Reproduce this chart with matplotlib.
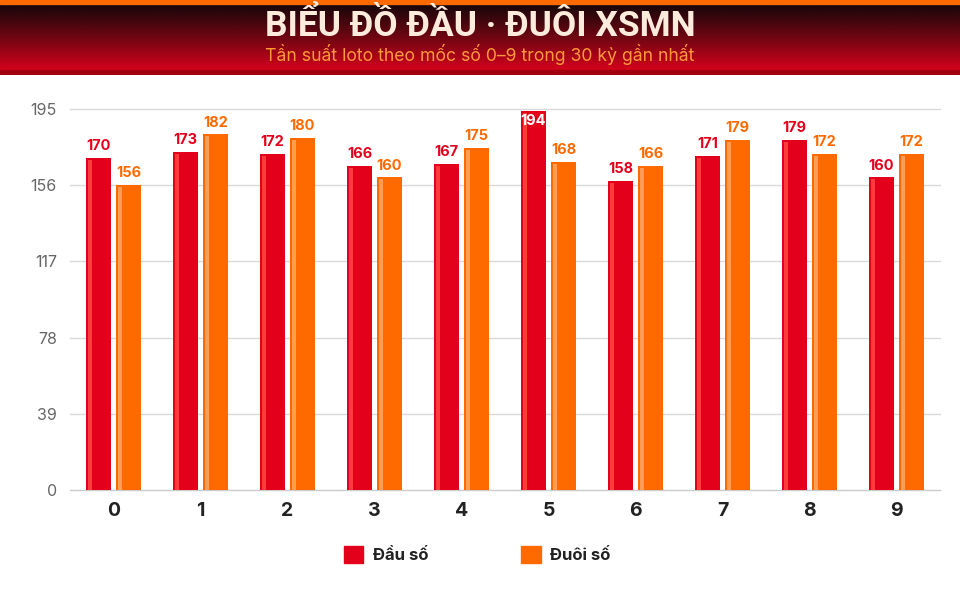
import numpy as np
import matplotlib.pyplot as plt
from matplotlib.colors import LinearSegmentedColormap

# data
digits = ["0", "1", "2", "3", "4", "5", "6", "7", "8", "9"]
dau_so = [170, 173, 172, 166, 167, 194, 158, 171, 179, 160]
duoi_so = [156, 182, 180, 160, 175, 168, 166, 179, 172, 172]
y_ticks = [0, 39, 78, 117, 156, 195]

RED = "#e3001b"
RED_HI = "#ff3b3b"
ORANGE = "#ff6a00"
ORANGE_HI = "#ff9d55"

W, H = 960, 600
fig = plt.figure(figsize=(W / 100, H / 100), dpi=100)
fig.patch.set_facecolor("white")

# ---- header band ----
hdr = fig.add_axes([0, 1 - 75 / H, 1, 75 / H])
hdr.set_xlim(0, W)
hdr.set_ylim(75, 0)
hdr.axis("off")
grad = LinearSegmentedColormap.from_list("hdr", ["#16060a", "#6e0612", "#d3021c"])
hdr.imshow(np.linspace(0, 1, 100).reshape(-1, 1), cmap=grad, aspect="auto",
           extent=[0, W, 70, 4], zorder=0)
hdr.axhspan(0, 4, color="#ff6a00", zorder=1)
hdr.axhspan(70, 75, color="#a3000f", zorder=1)
hdr.text(W / 2, 36, "BIỂU ĐỒ ĐẦU · ĐUÔI XSMN", ha="center", va="baseline",
         fontsize=25.5, fontweight="bold", color="#fdebdc", family="Roboto",
         zorder=2)
hdr.text(W / 2, 61, "Tần suất loto theo mốc số 0–9 trong 30 kỳ gần nhất",
         ha="center", va="baseline", fontsize=12.7, color="#ff9a3c", family="Inter",
         zorder=2)

# ---- main chart ----
ax = fig.add_axes([70 / W, 110 / H, 870 / W, 381 / H])
x = np.arange(len(digits))
bw = 0.29
off = 0.172
hi_w = 0.045

ax.bar(x - off, dau_so, width=bw, color=RED, zorder=3)
ax.bar(x + off, duoi_so, width=bw, color=ORANGE, zorder=3)
# light stripe on the left side of each bar
ax.bar(x - off - bw / 2 + 0.025, np.array(dau_so) - 1, width=hi_w, align="edge",
       color=RED_HI, zorder=4)
ax.bar(x + off - bw / 2 + 0.025, np.array(duoi_so) - 1, width=hi_w, align="edge",
       color=ORANGE_HI, zorder=4)

ymax = max(y_ticks)
for i, (a, b) in enumerate(zip(dau_so, duoi_so)):
    if a >= ymax - 3:
        ax.text(i - off, a - 1.5, str(a), ha="center", va="top", fontsize=10.5,
                fontweight="bold", color="white", family="Inter", zorder=5)
    else:
        ax.text(i - off, a + 2.5, str(a), ha="center", va="bottom", fontsize=10.5,
                fontweight="bold", color=RED, family="Inter", zorder=5)
    ax.text(i + off, b + 2.5, str(b), ha="center", va="bottom", fontsize=10.5,
            fontweight="bold", color=ORANGE, family="Inter", zorder=5)

ax.set_xlim(-0.5, len(digits) - 0.5)
ax.set_ylim(0, ymax)
ax.set_yticks(y_ticks)
ax.set_yticklabels([str(v) for v in y_ticks], fontsize=11.5, color="#666666",
                   family="Inter")
ax.set_xticks(x)
ax.set_xticklabels(digits, fontsize=14, fontweight="bold", color="#222222",
                   family="Inter")
ax.tick_params(axis="y", length=0, pad=9.5)
ax.tick_params(axis="x", length=0, pad=9)
ax.grid(axis="y", color="#d9d9d9", linewidth=1, zorder=0)
for g in ax.get_ygridlines():
    g.set_clip_on(False)
for s in ["top", "right", "left"]:
    ax.spines[s].set_visible(False)
ax.spines["bottom"].set_color("#cccccc")

# ---- legend ----
leg = ax.legend(handles=[plt.Rectangle((0, 0), 1, 1, color=RED),
                         plt.Rectangle((0, 0), 1, 1, color=ORANGE)],
                labels=["Đầu số", "Đuôi số"], loc="center",
                bbox_to_anchor=(0.468, -0.17), ncol=2, frameon=False,
                handlelength=1.15, handleheight=1.15, handletextpad=0.55,
                columnspacing=5.6,
                prop={"family": "Inter", "weight": "bold", "size": 12})
for t in leg.get_texts():
    t.set_color("#222222")

fig.savefig("out.png", dpi=100)
